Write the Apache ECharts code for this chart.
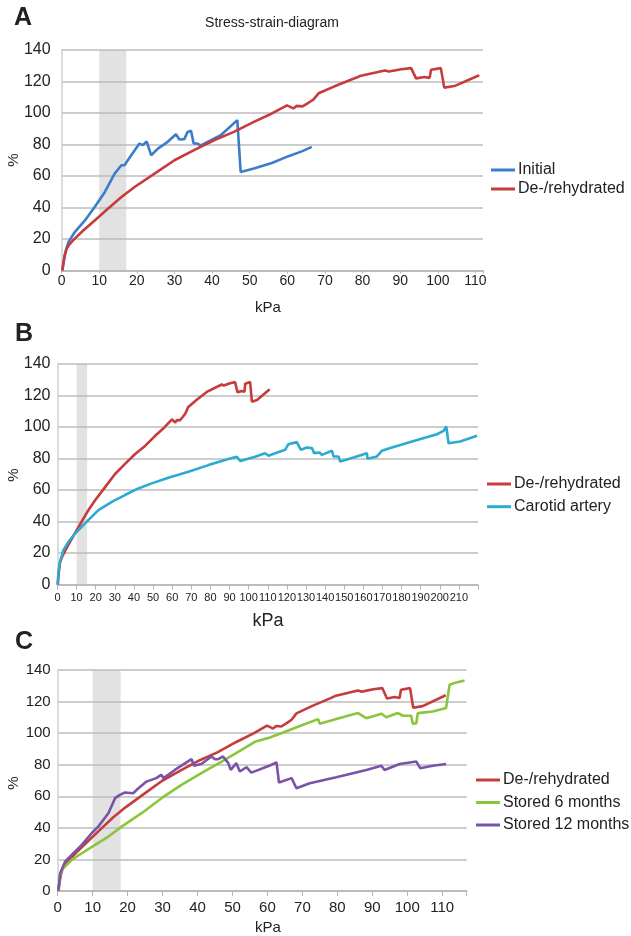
<!DOCTYPE html>
<html>
<head>
<meta charset="utf-8">
<script src="https://cdn.jsdelivr.net/npm/echarts@6/dist/echarts.min.js"></script>
<style>
	html, body { margin: 0; padding: 0; background: #fff; }
	#chart { width: 631px; height: 936px; }
</style>
</head>
<body>
<div id="chart"></div>
<script>
// [kPa, %]
const rehydrated = [[0.2,0],[0.5,5],[0.8,9],[1.3,13.8],[2.2,17],[3.5,20.2],[5.3,24.4],[8.8,31.8],[12.3,39.2],[15.9,46.7],[19.4,53],[24.7,61.5],[30,70],[35.2,76.4],[40.5,82.7],[45.8,88],[51.1,94.4],[55.9,99.7],[59.9,104.8],[61.6,102.9],[62.5,104.5],[64,104.2],[65.6,106.5],[66.9,108.5],[68.3,112.5],[72.7,117.1],[78.4,122.5],[79.3,123.5],[85.9,127],[87,126.3],[90.3,127.8],[92.9,128.5],[94.2,122],[96.4,122.9],[97.8,122.3],[98.2,127.5],[100.8,128.5],[101.7,116.1],[104.4,117.1],[111,124]];
const initial = [[0.2,0],[0.5,5],[0.9,10.6],[1.8,18],[3.5,24.4],[6.2,31.8],[8.8,40.3],[11.5,49.9],[14.1,61.5],[15.9,66.8],[16.7,66.8],[18.5,73.2],[20.7,80.6],[21.6,79.6],[22.6,82],[23.8,73.2],[25.6,77.4],[28.2,81.7],[30.4,86.5],[31.3,83.2],[32.6,83.4],[33.5,88],[34.4,88.7],[35.1,80.6],[36.1,80.6],[37,79.5],[38.8,81.7],[42.3,85.9],[46.7,95.5],[47.1,95.5],[47.6,62.6],[51.1,64.7],[55.9,68.3],[60.3,72.6],[64,75.8],[66.5,78.5]];
const carotid = [[0,0],[0.5,8],[1.3,14.4],[3.1,21.8],[5.7,27.1],[9.2,32.4],[14.4,38.8],[21.4,47.2],[28.4,52.5],[35.3,56.8],[42.3,61],[49.3,64.2],[58,67.8],[68.5,71.6],[79,75.8],[89.4,79.7],[93.8,81.1],[95.6,78.4],[103.4,81.1],[108.6,83.3],[110.4,81.8],[113.9,83.3],[119.1,85.5],[120.8,89.1],[125.2,90.4],[127.3,85.5],[130.5,87],[133.1,86.6],[134.3,83.4],[137.1,83.8],[138.3,82.3],[143.6,84.9],[144.4,81.3],[147,81.3],[147.9,78.1],[154.9,80.6],[161.9,83.4],[162.2,79.8],[167.1,81.3],[169.7,84.9],[174.1,86.6],[184.6,90.4],[198.5,95.4],[202,97.5],[203.4,100.3],[204.6,89.7],[210.7,90.8],[219.5,94.4]];
const stored6 = [[0.2,0.6],[0.7,10.1],[1.6,14.4],[4,19.7],[6.9,23.9],[10.7,29.2],[14.5,34.5],[18.3,40.8],[24,49.3],[29.7,58.8],[35.4,67.2],[41.1,74.6],[46.9,82],[52.6,89.4],[56.4,94.5],[60.7,97.2],[64.5,100.4],[70.2,105.3],[74.5,108.9],[75,105.9],[79.7,108.9],[85.9,112.7],[88.3,109.5],[92.6,112.3],[94,110.1],[97.3,112.7],[98.8,111],[101.1,111],[101.6,105.9],[102.6,106.3],[103,112.7],[107.3,113.7],[111.1,115.9],[112.1,130.7],[113.5,131.7],[116.4,133.4]];
const stored12 = [[0.2,0.6],[0.7,11.2],[2.1,18.6],[4,22.8],[6.9,29.2],[9.7,36.6],[11.6,40.8],[14.5,49.3],[16.4,58.8],[17.8,60.9],[19.2,62.4],[21.6,61.9],[22.6,64.1],[25.4,69.3],[28.2,71.5],[29.6,73.6],[30.3,71.5],[33.5,76.7],[38.3,83.5],[39,79.3],[41.1,80.5],[44,85.2],[45,83.5],[45.9,83.5],[47.3,85.2],[48.8,81],[49.5,76.7],[51.1,81],[52.1,75.7],[54,78.4],[55.4,75],[60.7,79.5],[62.6,81.5],[63.3,68.7],[66.9,71.5],[68.3,65.1],[72.1,68.3],[79.7,72.1],[88.3,76.7],[92.6,79.3],[93.5,76.7],[97.8,80.5],[102.6,82],[103.7,77.8],[107.3,79.3],[111.1,80.5]];

// grey bands (kPa)
const bandA = [10, 17.2];
const bandB = [10, 15.5];
const bandC = [10, 18];

const xMax = [112, 220, 117];
const yTicks = [0, 20, 40, 60, 80, 100, 120, 140];

const RED = "#c63b3b";
const BLUE = "#3b7dc8";
const CYAN = "#2aabcf";
const GREEN = "#8cc43c";
const PURPLE = "#7a52a8";
const FONT = "Liberation Sans, Arial, sans-serif";

const chart = echarts.init(document.getElementById("chart"));

const grids = [
	{ left: 61.6, top: 50, width: 421.4, height: 220.5 },
	{ left: 57.5, top: 364, width: 420.5, height: 220.5 },
	{ left: 57.7, top: 670, width: 409, height: 221 }
];
const xLabelSize = [14, 11, 15];
const xLabelMargin = [4, 8, 9];

function makeX(i) {
	const max = xMax[i];
	return {
		type: "value",
		gridIndex: i,
		min: 0,
		max: max,
		interval: 10,
		axisLine: { show: true, lineStyle: { color: "#b5b5b5", width: 1.5 } },
		axisTick: { show: true, length: i === 0 ? 3 : 5, lineStyle: { color: "#b5b5b5" } },
		splitLine: { show: false },
		axisLabel: {
			color: "#222",
			fontFamily: FONT,
			fontSize: xLabelSize[i],
			margin: xLabelMargin[i],
			formatter(v) {
				return (v % 10 === 0 && v < max) ? String(v) : "";
			}
		}
	};
}

function makeY(i) {
	return {
		type: "value",
		gridIndex: i,
		min: yTicks[0],
		max: yTicks[yTicks.length - 1],
		interval: 20,
		axisLine: { show: true, lineStyle: { color: "#cfcfcf", width: 1.5 } },
		axisTick: { show: false },
		splitLine: { lineStyle: { color: "#bcbcbc", width: 1.5 } },
		axisLabel: {
			color: "#222",
			fontFamily: FONT,
			fontSize: i === 2 ? 15 : 16,
			margin: i === 0 ? 11 : 7
		}
	};
}

function line(name, data, color, i) {
	return {
		name: name,
		type: "line",
		xAxisIndex: i,
		yAxisIndex: i,
		data: data,
		showSymbol: false,
		symbol: "none",
		smooth: false,
		z: 3,
		lineStyle: { color: color, width: 2.6 },
		itemStyle: { color: color }
	};
}

function band(range, i) {
	return {
		type: "line",
		xAxisIndex: i,
		yAxisIndex: i,
		data: [],
		z: 1,
		silent: true,
		markArea: {
			silent: true,
			itemStyle: { color: "rgba(185,185,185,0.42)" },
			data: [[{ xAxis: range[0] }, { xAxis: range[1] }]]
		}
	};
}

function legend(names, left, top, gap) {
	return {
		data: names,
		orient: "vertical",
		left: left,
		top: top,
		padding: 0,
		itemGap: gap,
		itemWidth: 24,
		itemHeight: 3,
		icon: "rect",
		selectedMode: false,
		textStyle: { color: "#222", fontFamily: FONT, fontSize: 16, lineHeight: 16, padding: [0, 0, 0, -2] }
	};
}

const legends = [
	legend(["Initial", "De-/rehydrated"], 491, 162, 3),
	legend(["De-/rehydrated", "Carotid artery"], 487, 476, 6.7),
	legend(["De-/rehydrated", "Stored 6 months", "Stored 12 months"], 476, 772, 6.5)
];

function txt(x, y, text, size, extra) {
	return {
		type: "text",
		x: x,
		y: y,
		rotation: extra && extra.rotation || 0,
		style: {
			text: text,
			fill: "#222",
			font: (extra && extra.bold ? "bold " : "") + size + "px " + FONT,
			textAlign: "center",
			textVerticalAlign: "middle"
		}
	};
}

const option = {
	animation: false,
	backgroundColor: "#fff",
	grid: grids,
	xAxis: [makeX(0), makeX(1), makeX(2)],
	yAxis: [makeY(0), makeY(1), makeY(2)],
	legend: legends,
	series: [
		band(bandA, 0),
		line("Initial", initial, BLUE, 0),
		line("De-/rehydrated", rehydrated, RED, 0),
		band(bandB, 1),
		line("De-/rehydrated", rehydrated, RED, 1),
		line("Carotid artery", carotid, CYAN, 1),
		band(bandC, 2),
		line("De-/rehydrated", rehydrated, RED, 2),
		line("Stored 6 months", stored6, GREEN, 2),
		line("Stored 12 months", stored12, PURPLE, 2)
	],
	graphic: [
		txt(23, 18, "A", 25, { bold: true }),
		txt(24, 334, "B", 25, { bold: true }),
		txt(24, 642, "C", 25, { bold: true }),
		txt(272, 23, "Stress-strain-diagram", 14),
		txt(268, 308, "kPa", 15),
		txt(268, 621, "kPa", 18),
		txt(268, 928, "kPa", 15),
		txt(14, 160, "%", 15, { rotation: Math.PI / 2 }),
		txt(14, 475, "%", 15, { rotation: Math.PI / 2 }),
		txt(14, 783, "%", 15, { rotation: Math.PI / 2 })
	]
};

option && chart.setOption(option);
</script>
</body>
</html>
